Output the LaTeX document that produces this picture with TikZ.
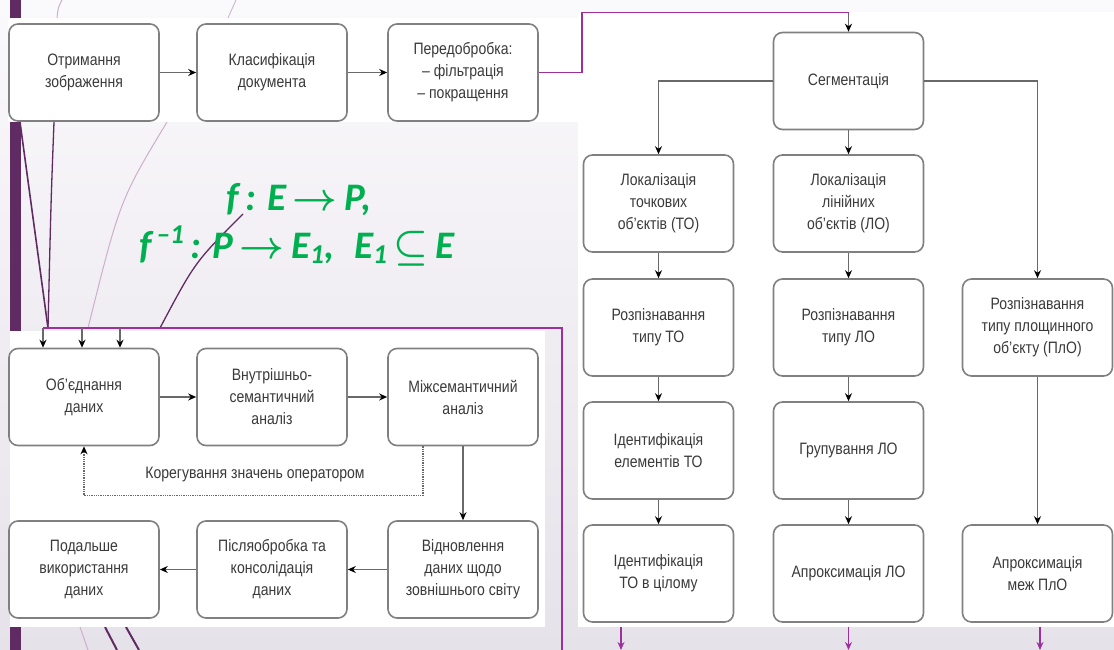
\documentclass[tikz,border=0pt]{standalone}
\usepackage{fix-cm}
\usepackage{fontspec}
\setmainfont{Liberation Sans}[FakeStretch=0.85]
\newfontfamily\fmlfont{Carlito}
\usetikzlibrary{arrows.meta}

\definecolor{boxgrey}{RGB}{128,128,128}
\definecolor{txtgrey}{RGB}{58,58,58}
\definecolor{linegrey}{RGB}{105,105,105}
\definecolor{linkpurple}{RGB}{158,48,158}
\definecolor{barpurple}{RGB}{96,42,98}
\definecolor{fadepurple}{RGB}{205,175,205}
\definecolor{fmlgreen}{RGB}{0,176,80}
\definecolor{bgtop}{RGB}{250,249,251}
\definecolor{bgbot}{RGB}{230,226,234}

\tikzset{
  stagebox/.style={draw=boxgrey, line width=1.6pt, rounded corners=9pt, fill=white,
    minimum width=150, minimum height=97, align=center, inner sep=2pt, text=txtgrey,
    font=\fontsize{16.5}{22}\selectfont},
  flow/.style={draw=linegrey, line width=1.3pt, -{Stealth[length=8pt,width=7pt,color=black]}},
  fix/.style={draw=linegrey, line width=1.3pt, densely dotted, -{Stealth[length=8pt,width=7pt,color=black]}},
  link/.style={draw=linkpurple, line width=1.5pt},
  formula/.style={text=fmlgreen, anchor=base, font=\fmlfont\bfseries\itshape\fontsize{39}{45}\selectfont},
}

\begin{document}
\begin{tikzpicture}[x=1pt,y=-1pt]
\useasboundingbox (0,0) rectangle (1114,650);
\shade[top color=bgtop, bottom color=bgbot] (0,0) rectangle (1114,650);
\fill[barpurple] (10,0) rectangle (21,650);
%slide decoration
\draw[barpurple, line width=1.6pt] (20,122) -- (48,328);
\draw[barpurple, line width=1.3pt] (54,122) .. controls (51,200) .. (48,328);
\draw[fadepurple, line width=1pt] (167,122) .. controls (120,200) .. (88,328);
\draw[barpurple, line width=1.3pt] (243,214) .. controls (195,262) .. (160,328);
\draw[fadepurple, line width=1pt] (62,0) .. controls (58,8) .. (57,18);
\draw[fadepurple, line width=0.8pt] (236,0) -- (228,18);
\draw[fadepurple, line width=1pt] (80,627) -- (88,650);
\draw[barpurple, line width=2pt] (105,627) -- (117,650);
\draw[barpurple, line width=2pt] (126,627) -- (139,650);

\fill[white] (8,18) rectangle (580,122);
\fill[white] (10,331) rectangle (545,627);
\fill[white] (578,12) rectangle (1114,627);

\node[formula] (fmlone) at (299,210) {f\,:\;E\,{\boldmath$\rightarrow$}\,P,};
\node[formula] (fmltwo) at (297,258) {f\textsuperscript{\,–1}\,:\;P\,{\boldmath$\rightarrow$}\,E\textsubscript{1},\enspace E\textsubscript{1}\,{\boldmath$\subseteq$}\,E};

\node[stagebox] (getimg) at (84,72.5) {Отримання\\зображення};
\node[stagebox] (classify) at (272,72.5) {Класифікація\\документа};
\node[stagebox] (prep) at (463,72.5) {Передобробка:\\– фільтрація\\– покращення};

\node[stagebox] (merge) at (84,397) {Об’єднання\\даних};
\node[stagebox] (inner) at (272,397) {Внутрішньо-\\семантичний\\аналіз};
\node[stagebox] (cross) at (463,397) {Міжсемантичний\\аналіз};
\node[stagebox] (restore) at (463,569.5) {Відновлення\\даних щодо\\зовнішнього світу};
\node[stagebox] (post) at (272,569.5) {Післяобробка та\\консолідація\\даних};
\node[stagebox] (further) at (84,569.5) {Подальше\\використання\\даних};
\node[text=txtgrey, font=\fontsize{16.5}{22}\selectfont] (corrlabel) at (255,475) {Корегування значень оператором};

\node[stagebox] (segm) at (848.5,81) {Сегментація};
\node[stagebox] (locto) at (658.5,203.5) {Локалізація\\точкових\\об’єктів (ТО)};
\node[stagebox] (loclo) at (848.5,203.5) {Локалізація\\лінійних\\об’єктів (ЛО)};
\node[stagebox] (rectto) at (658.5,327.5) {Розпізнавання\\типу ТО};
\node[stagebox] (reclo) at (848.5,327.5) {Розпізнавання\\типу ЛО};
\node[stagebox] (recpl) at (1037.5,327.5) {Розпізнавання\\типу площинного\\об’єкту (ПлО)};
\node[stagebox] (identto) at (658.5,450.5) {Ідентифікація\\елементів ТО};
\node[stagebox] (grouplo) at (848.5,450.5) {Групування ЛО};
\node[stagebox] (wholeto) at (658.5,573.5) {Ідентифікація\\ТО в цілому};
\node[stagebox] (approxlo) at (848.5,573.5) {Апроксимація ЛО};
\node[stagebox] (approxpl) at (1037.5,573.5) {Апроксимація\\меж ПлО};

\draw[flow] (getimg) -- (classify);
\draw[flow] (classify) -- (prep);
\coordinate (segin) at ([yshift=19]segm.north);
\draw[link] (prep.east) -- ++(43,0) |- (segin);
\draw[flow] (segin) -- (segm);

\draw[flow] (segm.west) -| (locto);
\draw[flow] (segm) -- (loclo);
\draw[flow] (segm.east) -| (recpl);
\draw[flow] (locto) -- (rectto);
\draw[flow] (rectto) -- (identto);
\draw[flow] (identto) -- (wholeto);
\draw[flow] (loclo) -- (reclo);
\draw[flow] (reclo) -- (grouplo);
\draw[flow] (grouplo) -- (approxlo);
\draw[flow] (recpl) -- (approxpl);

\foreach \xx/\nm in {621/outto,848.5/outlo,1040/outpl}{
  \coordinate (\nm) at (\xx,627);
  \coordinate (\nm end) at (\xx,650);
  \draw[link, -{Stealth[length=8pt,width=7pt]}] (\nm) -- (\nm end);
}

\coordinate (loopin) at (562,650);
\coordinate (loopturn) at (562,328);
\coordinate (feed1) at (43,328);
\draw[link] (loopin) -- (loopturn) -- (feed1);
\foreach \xx [count=\i] in {43,82,120}{
  \coordinate (feed\i) at (\xx,328);
  \draw[flow] (feed\i) -- (feed\i |- merge.north);
}

\draw[flow] (merge) -- (inner);
\draw[flow] (inner) -- (cross);
\draw[flow] (cross) -- (restore);
\draw[flow] (restore) -- (post);
\draw[flow] (post) -- (further);
\draw[fix] ([xshift=-40]cross.south) -- ++(0,49) -| (merge);

\end{tikzpicture}
\end{document}
